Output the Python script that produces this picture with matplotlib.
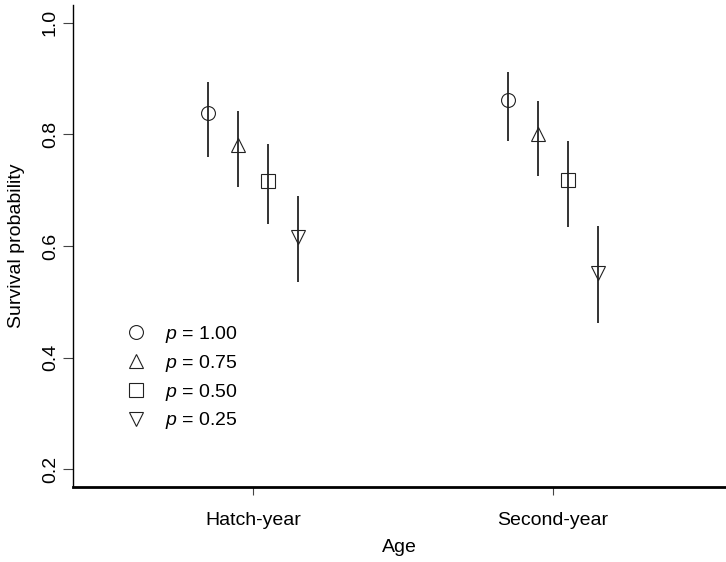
import matplotlib
matplotlib.use('Agg')
import matplotlib.pyplot as plt
from matplotlib.lines import Line2D

plt.rcParams['font.family'] = ['Liberation Sans', 'DejaVu Sans']
plt.rcParams['mathtext.fontset'] = 'custom'
plt.rcParams['mathtext.it'] = 'Liberation Sans:italic'
plt.rcParams['mathtext.rm'] = 'Liberation Sans'

# data
ages = ['Hatch-year', 'Second-year']
p_labels = ['$p$ = 1.00', '$p$ = 0.75', '$p$ = 0.50', '$p$ = 0.25']
markers = ['o', '^', 's', 'v']
offsets = [-0.15, -0.05, 0.05, 0.15]

est = [[0.839, 0.862],
       [0.781, 0.801],
       [0.717, 0.718],
       [0.616, 0.552]]
lower = [[0.760, 0.788],
         [0.706, 0.726],
         [0.639, 0.634],
         [0.535, 0.462]]
upper = [[0.894, 0.912],
         [0.842, 0.860],
         [0.783, 0.788],
         [0.690, 0.636]]

fig = plt.figure(figsize=(7.26, 5.62), dpi=100)
ax = fig.add_axes([73 / 726, 1 - 487 / 562, 1 - 73 / 726, (487 - 5) / 562])

xpos = [1, 2]
handles = []
for k in range(4):
    xs = [x + offsets[k] for x in xpos]
    ax.vlines(xs, lower[k], upper[k], color='#333333', lw=1.4, zorder=1)
    ax.plot(xs, est[k], linestyle='none', marker=markers[k], ms=10,
            mfc='none', mec='#222222', mew=0.8, zorder=2)
    handles.append(Line2D([], [], linestyle='none', marker=markers[k], ms=10,
                          mfc='none', mec='#222222', mew=0.8, label=p_labels[k]))

ax.set_xlim(0.4, 2.577)
ax.set_ylim(0.168, 1.032)
ax.set_xticks(xpos)
ax.set_xticklabels(ages, fontsize=14)
ax.set_yticks([0.2, 0.4, 0.6, 0.8, 1.0])
ax.set_yticklabels(['0.2', '0.4', '0.6', '0.8', '1.0'], fontsize=14,
                   rotation=90, va='center')
ax.tick_params(axis='y', direction='out', length=7.2, width=0.8, pad=3, color='#444444')
ax.tick_params(axis='x', direction='out', length=6, width=0.8, pad=12, color='#444444')

for s in ['top', 'right']:
    ax.spines[s].set_visible(False)
ax.spines['left'].set_linewidth(1.0)
ax.spines['bottom'].set_linewidth(2.0)

ax.set_xlabel('Age', fontsize=14, labelpad=7)
ax.set_ylabel('Survival probability', fontsize=14, labelpad=12)

ax.legend(handles=handles, loc='upper left', bbox_to_anchor=(126 / 726, 1 - 324 / 562),
          bbox_transform=fig.transFigure, frameon=False, fontsize=14,
          handlelength=1.0, handletextpad=1.0, labelspacing=0.4,
          borderpad=0, borderaxespad=0)

fig.savefig('out.png', dpi=100)
